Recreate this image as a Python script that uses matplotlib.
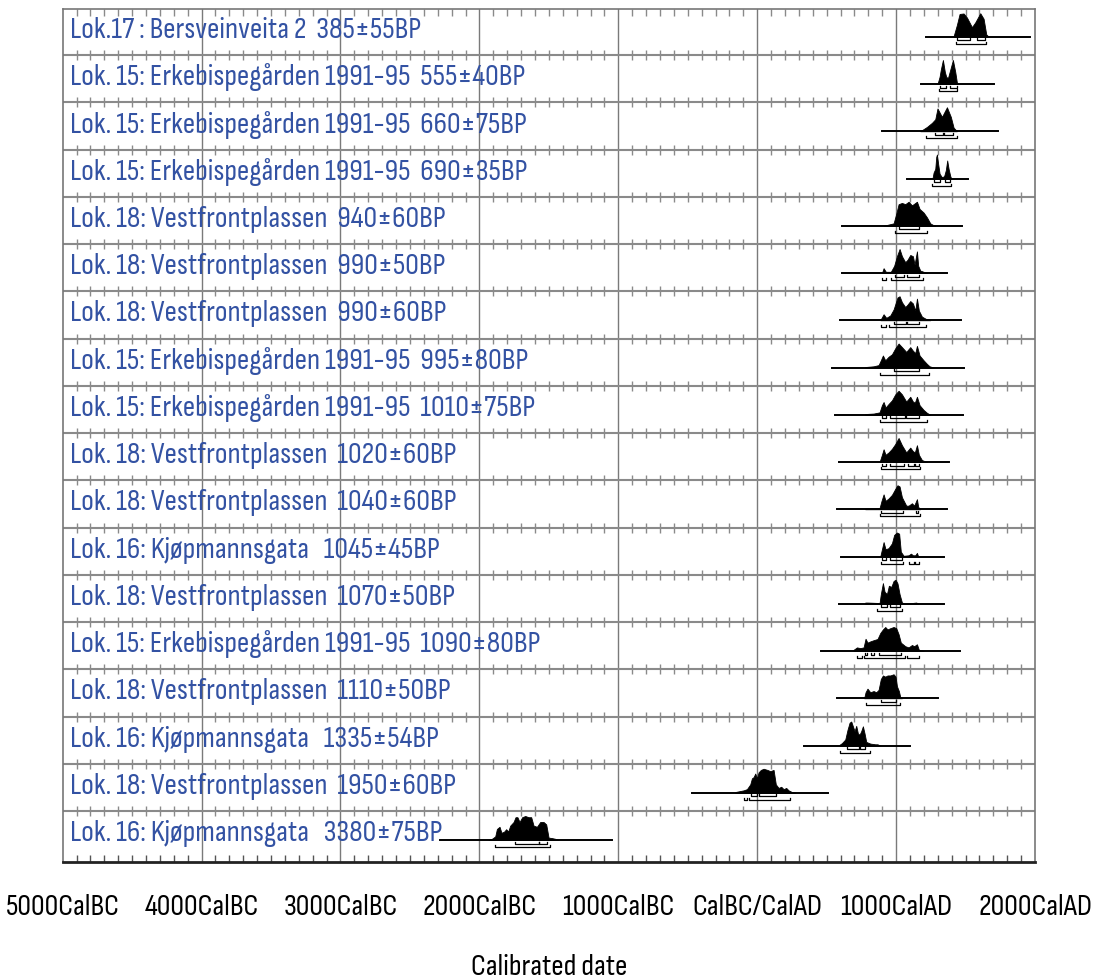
import matplotlib
matplotlib.use("Agg")
import matplotlib.pyplot as plt
from matplotlib import font_manager as fm
from matplotlib.textpath import TextPath
import numpy as np

# ---------------- data ----------------
labels = [
    "Lok.17 : Bersveinveita 2  385±55BP",
    "Lok. 15: Erkebispegården 1991-95  555±40BP",
    "Lok. 15: Erkebispegården 1991-95  660±75BP",
    "Lok. 15: Erkebispegården 1991-95  690±35BP",
    "Lok. 18: Vestfrontplassen  940±60BP",
    "Lok. 18: Vestfrontplassen  990±50BP",
    "Lok. 18: Vestfrontplassen  990±60BP",
    "Lok. 15: Erkebispegården 1991-95  995±80BP",
    "Lok. 15: Erkebispegården 1991-95  1010±75BP",
    "Lok. 18: Vestfrontplassen  1020±60BP",
    "Lok. 18: Vestfrontplassen  1040±60BP",
    "Lok. 16: Kjøpmannsgata   1045±45BP",
    "Lok. 18: Vestfrontplassen  1070±50BP",
    "Lok. 15: Erkebispegården 1991-95  1090±80BP",
    "Lok. 18: Vestfrontplassen  1110±50BP",
    "Lok. 16: Kjøpmannsgata   1335±54BP",
    "Lok. 18: Vestfrontplassen  1950±60BP",
    "Lok. 16: Kjøpmannsgata   3380±75BP",
]

# extent of each plotted range (baseline), calendar years (negative = BC)
line_start = [1215, 1181, 900, 1082, 614, 614, 598, 542, 562, 586, 578, 602, 586, 458, 578, 338, -466, -2282]
line_end = [1961, 1706, 1733, 1519, 1474, 1370, 1466, 1490, 1481, 1378, 1370, 1346, 1342, 1462, 1301, 1102, 509, -1042]

# probability distributions (year, relative height)
dist_years = [
    [1413, 1438, 1457, 1486, 1510, 1546, 1570, 1606, 1630, 1649, 1666],
    [1298, 1313, 1322, 1337, 1351, 1361, 1373, 1390, 1409, 1426, 1438, 1447],
    [1174, 1222, 1258, 1282, 1298, 1330, 1366, 1394, 1414, 1438],
    [1262, 1270, 1282, 1289, 1294, 1303, 1313, 1330, 1346, 1358, 1368, 1378, 1390, 1397],
    [910, 982, 1001, 1018, 1042, 1066, 1090, 1114, 1150, 1169, 1198, 1222, 1246, 1270, 1282],
    [898, 910, 926, 962, 986, 1006, 1025, 1042, 1066, 1082, 1102, 1121, 1133, 1150, 1159, 1174, 1198, 1222],
    [886, 910, 929, 958, 982, 1010, 1025, 1042, 1066, 1082, 1102, 1121, 1138, 1150, 1164, 1186, 1217, 1246],
    [778, 838, 874, 890, 905, 922, 946, 970, 994, 1018, 1042, 1073, 1102, 1121, 1138, 1150, 1169, 1198, 1222, 1241, 1270],
    [778, 838, 881, 898, 910, 924, 946, 970, 994, 1018, 1042, 1073, 1102, 1121, 1135, 1150, 1169, 1198, 1222, 1246],
    [881, 898, 910, 924, 946, 970, 994, 1018, 1042, 1073, 1102, 1121, 1135, 1150, 1164, 1186, 1222],
    [778, 814, 881, 895, 910, 924, 946, 970, 994, 1010, 1025, 1042, 1073, 1090, 1114, 1130, 1150, 1159, 1174],
    [886, 898, 910, 924, 946, 970, 986, 1006, 1022, 1034, 1054, 1090, 1107, 1121, 1138, 1150, 1159],
    [778, 794, 881, 890, 905, 917, 934, 948, 965, 982, 996, 1010, 1025, 1042, 1066, 1145, 1162],
    [694, 718, 742, 766, 780, 794, 814, 838, 866, 886, 905, 922, 938, 958, 982, 1001, 1018, 1034, 1066, 1090, 1114, 1130, 1150, 1164, 1198],
    [770, 780, 794, 814, 838, 857, 874, 890, 905, 922, 938, 958, 982, 996, 1006, 1020, 1030, 1042],
    [593, 610, 634, 650, 665, 677, 689, 701, 713, 725, 737, 749, 761, 773, 785, 814, 850, 866, 886],
    [-158, -98, -74, -50, -38, -26, -14, -2, 10, 26, 46, 74, 94, 118, 134, 154, 173, 190, 209, 226, 250, 274],
    [-1934, -1910, -1886, -1874, -1855, -1841, -1822, -1807, -1793, -1778, -1754, -1740, -1726, -1711, -1692,
     -1670, -1646, -1627, -1610, -1586, -1562, -1538, -1519, -1502, -1478, -1454, -1430],
]
dist_heights = [
    [0.0, 0.5, 0.95, 0.97, 0.8, 0.4, 0.6, 0.98, 0.75, 0.1, 0.0],
    [0.0, 0.3, 0.6, 1.0, 0.5, 0.3, 0.24, 0.6, 1.0, 0.5, 0.05, 0.0],
    [0.0, 0.18, 0.35, 0.5, 0.95, 0.6, 1.0, 0.6, 0.15, 0.0],
    [0.0, 0.25, 0.4, 0.9, 1.0, 0.6, 0.2, 0.05, 0.1, 0.35, 0.75, 0.4, 0.1, 0.0],
    [0.0, 0.1, 0.5, 0.9, 0.95, 0.9, 1.0, 0.85, 1.0, 0.7, 0.55, 0.35, 0.1, 0.02, 0.0],
    [0.0, 0.2, 0.05, 0.05, 0.3, 0.7, 1.0, 0.7, 0.45, 0.55, 0.75, 0.7, 0.35, 0.9, 0.3, 0.1, 0.05, 0.0],
    [0.0, 0.25, 0.1, 0.2, 0.45, 0.95, 1.0, 0.75, 0.55, 0.65, 0.8, 0.7, 0.4, 0.9, 0.4, 0.15, 0.05, 0.0],
    [0.02, 0.05, 0.1, 0.3, 0.5, 0.3, 0.45, 0.55, 0.8, 1.0, 0.85, 0.65, 0.85, 0.7, 0.6, 0.9, 0.5, 0.3, 0.15, 0.05, 0.0],
    [0.03, 0.05, 0.1, 0.4, 0.53, 0.3, 0.45, 0.6, 0.85, 1.0, 0.85, 0.55, 0.75, 0.55, 0.5, 0.75, 0.4, 0.2, 0.08, 0.0],
    [0.0, 0.3, 0.53, 0.3, 0.4, 0.55, 0.75, 1.0, 0.7, 0.4, 0.6, 0.45, 0.4, 0.7, 0.3, 0.08, 0.0],
    [0.02, 0.03, 0.05, 0.35, 0.62, 0.35, 0.45, 0.6, 0.85, 1.0, 0.95, 0.5, 0.15, 0.15, 0.25, 0.15, 0.42, 0.1, 0.0],
    [0.0, 0.3, 0.6, 0.3, 0.35, 0.55, 0.9, 1.0, 0.95, 0.2, 0.03, 0.05, 0.12, 0.05, 0.05, 0.15, 0.0],
    [0.05, 0.05, 0.03, 0.4, 0.86, 0.5, 0.4, 0.75, 0.7, 0.95, 1.0, 0.85, 0.4, 0.05, 0.0, 0.05, 0.0],
    [0.05, 0.15, 0.12, 0.15, 0.51, 0.35, 0.4, 0.45, 0.5, 0.75, 0.9, 1.0, 0.9, 0.95, 1.0, 0.95, 0.7, 0.35, 0.2,
     0.15, 0.25, 0.2, 0.28, 0.05, 0.0],
    [0.0, 0.25, 0.4, 0.25, 0.3, 0.25, 0.35, 0.8, 0.95, 0.9, 0.95, 0.95, 1.0, 0.9, 0.5, 0.3, 0.05, 0.0],
    [0.03, 0.1, 0.25, 0.65, 0.95, 1.0, 0.8, 0.6, 0.82, 0.5, 0.45, 0.6, 0.8, 0.5, 0.15, 0.08, 0.05, 0.05, 0.0],
    [0.03, 0.1, 0.15, 0.35, 0.6, 0.65, 0.8, 0.6, 0.85, 0.95, 1.0, 0.95, 0.9, 0.95, 0.35, 0.2, 0.25, 0.15, 0.2,
     0.1, 0.03, 0.0],
    [0.0, 0.05, 0.15, 0.46, 0.55, 0.3, 0.35, 0.45, 0.35, 0.6, 0.75, 0.95, 0.95, 0.75, 0.95, 1.0, 0.95, 0.95, 0.6,
     0.55, 0.75, 0.75, 0.65, 0.1, 0.08, 0.05, 0.0],
]

# 68.2% and 95.4% ranges (start, end) per row
ranges_1s = [
    [(1438, 1534), (1582, 1642)],
    [(1318, 1361), (1390, 1438)],
    [(1282, 1340), (1342, 1409)],
    [(1270, 1313), (1349, 1390)],
    [(1022, 1166)],
    [(994, 1054), (1082, 1166)],
    [(982, 1073), (1078, 1164)],
    [(982, 1164)],
    [(898, 924), (958, 1066), (1073, 1166)],
    [(898, 926), (958, 1054), (1085, 1126), (1135, 1166)],
    [(893, 1049), (1145, 1155)],
    [(898, 926), (958, 1042)],
    [(890, 934), (953, 1030)],
    [(778, 794), (818, 838), (874, 1034)],
    [(890, 1001)],
    [(650, 730), (742, 778)],
    [(-46, 2), (10, 134)],
    [(-1747, -1574), (-1570, -1514)],
]
ranges_2s = [
    [(1430, 1646)],
    [(1306, 1442)],
    [(1217, 1438)],
    [(1262, 1397)],
    [(994, 1226)],
    [(902, 929), (962, 1193)],
    [(890, 924), (950, 1217)],
    [(881, 1234)],
    [(881, 1222)],
    [(890, 1174)],
    [(886, 1169)],
    [(890, 1049), (1090, 1126), (1133, 1164)],
    [(862, 1042)],
    [(718, 754), (770, 1066), (1082, 1162)],
    [(780, 1025)],
    [(598, 814)],
    [(-98, -74), (-62, 238)],
    [(-1886, -1495)],
]

xtick_values = [-5000, -4000, -3000, -2000, -1000, 0, 1000, 2000]
xtick_labels = ["5000CalBC", "4000CalBC", "3000CalBC", "2000CalBC", "1000CalBC",
                "CalBC/CalAD", "1000CalAD", "2000CalAD"]
xlabel = "Calibrated date"

# ---------------- style / layout ----------------
W, H = 1095, 980
AX_L, AX_R, AX_T, AX_B = 62.7, 1035.0, 9.0, 862.0
ROW0, ROWH = 7.75, 47.25
PEAK = 24.0
BLUE = "#3352a3"
GRAY = "#8a8a8a"
LABEL_W, CAP_H = 452.0, 20.0      # reference: width of label 1, capital height (px)

# choose the condensed sans whose proportions are closest to the reference lettering
_available = {f.name for f in fm.fontManager.ttflist}
_cands = ["Liberation Sans Narrow", "Arial Narrow", "Archivo Narrow", "PT Sans Narrow",
          "Roboto Condensed", "Open Sans Condensed", "Fira Sans Condensed", "Fira Sans Extra Condensed",
          "IBM Plex Sans Condensed", "Sofia Sans Condensed", "Sofia Sans Extra Condensed",
          "Barlow Condensed", "Barlow Semi Condensed", "Asap Condensed", "Encode Sans Condensed",
          "Encode Sans Extra Condensed", "Roboto Flex", "Ubuntu Condensed", "Archivo"]
_best = None
for name in _cands:
    if name not in _available:
        continue
    fp = fm.FontProperties(family=name, weight="normal", style="normal")
    try:
        wid = TextPath((0, 0), labels[1], size=100, prop=fp).get_extents().width
        cap = TextPath((0, 0), "H", size=100, prop=fp).get_extents().height
    except Exception:
        continue
    score = abs(np.log((wid / cap) / (LABEL_W / CAP_H)))
    if _best is None or score < _best[0]:
        _best = (score, name, wid, cap)
if _best is None:
    FONT_NAME, _wid, _cap = "DejaVu Sans", None, None
else:
    _, FONT_NAME, _wid, _cap = _best
FONT = [FONT_NAME, "DejaVu Sans"]

if _wid:
    # size (pt at 100 dpi) compromise between matching cap height and matching width
    size_cap = CAP_H / (_cap / 100) * 0.72
    size_w = LABEL_W / (_wid / 100) * 0.72
    LABEL_SIZE = np.sqrt(size_cap * size_w)
else:
    LABEL_SIZE = 15

fig = plt.figure(figsize=(W / 100, H / 100), dpi=100)
ax = fig.add_axes([AX_L / W, 1 - AX_B / H, (AX_R - AX_L) / W, (AX_B - AX_T) / H])
ax.set_xlim(-5000, 2000)
ax.set_ylim(AX_B, AX_T)
ax.set_xticks([])
ax.set_yticks([])
for side in ["left", "right", "top"]:
    ax.spines[side].set_color("#777777")
    ax.spines[side].set_linewidth(1.2)
ax.spines["bottom"].set_color("#222222")
ax.spines["bottom"].set_linewidth(2.0)

n = len(labels)
minor = [yr for yr in range(-4900, 2000, 100) if yr % 1000 != 0]

for v in xtick_values[1:-1]:
    ax.axvline(v, color="#7a7a7a", lw=1.0, zorder=1)

for k in range(1, n):
    yl = ROW0 + ROWH * k
    ax.axhline(yl, color=GRAY, lw=1.5, zorder=1)
    ax.vlines(minor, yl - 5, yl + 5, color=GRAY, lw=1.0, zorder=1)
ax.vlines(minor, AX_T, AX_T + 7, color=GRAY, lw=1.0, zorder=1)
ax.vlines(minor, AX_B - 7, AX_B, color="#555555", lw=1.0, zorder=1)

for k in range(n):
    top = ROW0 + ROWH * k
    base = top + 29.0
    ax.text(-4950, top + 22.5, labels[k], color=BLUE, fontsize=LABEL_SIZE, family=FONT,
            va="center", ha="left", zorder=3)
    ax.plot([line_start[k], line_end[k]], [base, base], color="black", lw=1.4, zorder=4)
    yrs = np.array(dist_years[k], dtype=float)
    hts = np.array(dist_heights[k], dtype=float)
    ax.fill_between(yrs, base, base - hts * PEAK, color="black", lw=0.6, zorder=4)
    for (a, b) in ranges_1s[k]:
        yb = base + 3.5
        ax.plot([a, a, b, b], [yb - 2, yb, yb, yb - 2], color="black", lw=0.9, zorder=4)
    for (a, b) in ranges_2s[k]:
        yb = base + 7.0
        ax.plot([a, a, b, b], [yb - 2, yb, yb, yb - 2], color="black", lw=0.9, zorder=4)

for v, t in zip(xtick_values, xtick_labels):
    ax.text(v, 907, t, fontsize=LABEL_SIZE, family=FONT, ha="center", va="center",
            color="black", clip_on=False)
ax.text(-1500, 967, xlabel, fontsize=LABEL_SIZE, family=FONT, ha="center", va="center",
        color="black", clip_on=False)

fig.savefig("out.png", dpi=100)
